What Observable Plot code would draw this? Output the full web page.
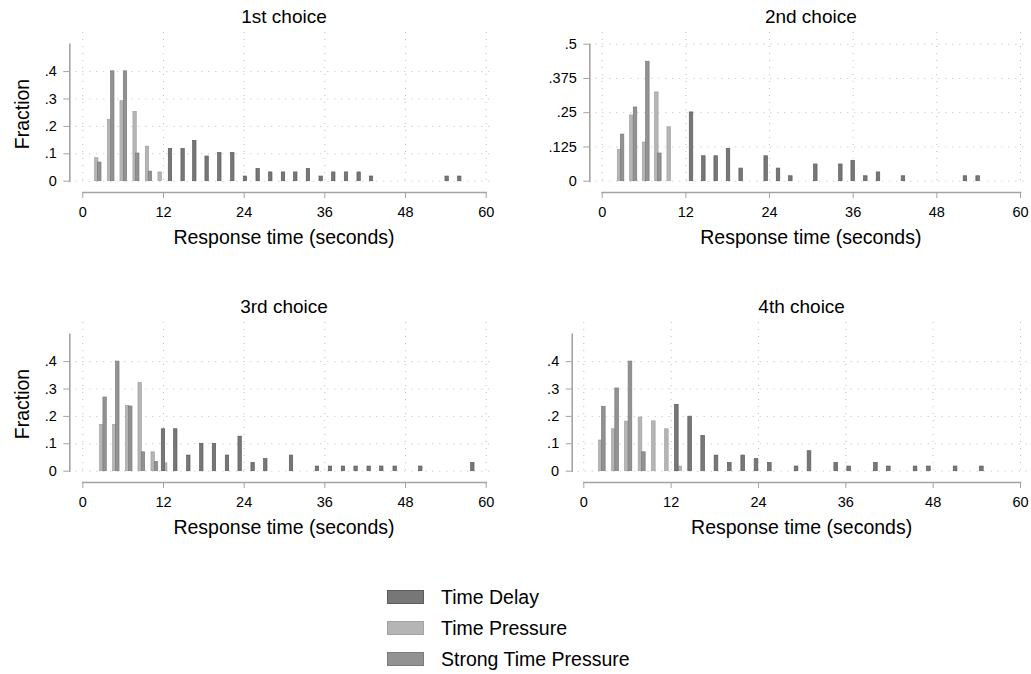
<!DOCTYPE html>
<html>
<head>
<meta charset="utf-8">
<script src="https://cdn.jsdelivr.net/npm/d3@7"></script>
<script src="https://cdn.jsdelivr.net/npm/@observablehq/plot@0.6"></script>
<style>
  body { margin: 0; background: #fff; font-family: "Liberation Sans", Arial, sans-serif; }
  #root { position: relative; width: 1031px; height: 674px; overflow: hidden; background: #fff; }
  .abs { position: absolute; }
  .ctr { transform: translate(-50%, -50%); white-space: nowrap; color: #000; }
  .ptitle { font-size: 19px; }
  .xtitle { font-size: 19.5px; }
  .ytitle { font-size: 19.5px; transform: translate(-50%, -50%) rotate(-90deg); white-space: nowrap; color: #000; }
  .sw { position: absolute; width: 35px; height: 12px; }
  .lt { position: absolute; font-size: 19.5px; color: #000; transform: translateY(-50%); white-space: nowrap; }
</style>
</head>
<body>
<div id="root"></div>
<script>
// ---------- data ----------
const seriesNames = ["Time Delay", "Time Pressure", "Strong Time Pressure"];
const panelTitles = ["1st choice", "2nd choice", "3rd choice", "4th choice"];
const xTicks = [0, 12, 24, 36, 48, 60];
const yTicksA = [0, 0.1, 0.2, 0.3, 0.4];
const yTicksB = [0, 0.125, 0.25, 0.375, 0.5];
const xTitle = "Response time (seconds)";
const yTitle = "Fraction";

// Panel 1: 1st choice (bar centre in seconds, fraction)
const p1TDx = [13.04, 14.92, 16.66, 18.49, 20.38, 22.31, 24.19, 26.08, 27.96, 29.85, 31.68, 33.56, 35.45, 37.33, 39.22, 41.10, 42.94, 54.19, 56.07];
const p1TDy = [0.118, 0.118, 0.147, 0.090, 0.103, 0.103, 0.017, 0.045, 0.032, 0.032, 0.032, 0.045, 0.017, 0.032, 0.032, 0.032, 0.017, 0.017, 0.017];
const p1TPx = [2.08, 3.97, 5.85, 7.78, 9.62, 11.50];
const p1TPy = [0.084, 0.224, 0.292, 0.253, 0.126, 0.032];
const p1STx = [2.53, 4.46, 6.35, 8.18, 10.06];
const p1STy = [0.068, 0.401, 0.401, 0.101, 0.035];

// Panel 2: 2nd choice
const p2TDx = [12.81, 14.58, 16.35, 18.12, 19.93, 23.52, 25.29, 27.06, 30.64, 34.23, 36.00, 37.81, 39.63, 43.21, 52.10, 53.92];
const p2TDy = [0.251, 0.091, 0.091, 0.118, 0.046, 0.091, 0.046, 0.018, 0.061, 0.061, 0.074, 0.018, 0.032, 0.018, 0.018, 0.018];
const p2TPx = [2.49, 4.25, 6.07, 7.84, 9.61];
const p2TPy = [0.114, 0.240, 0.141, 0.324, 0.197];
const p2STx = [2.92, 4.78, 6.55, 8.27];
const p2STy = [0.170, 0.269, 0.436, 0.101];

// Panel 3: 3rd choice
const p3TDx = [12.00, 13.83, 15.77, 17.70, 19.58, 21.52, 23.40, 25.33, 27.22, 31.04, 34.90, 36.84, 38.77, 40.65, 42.59, 44.47, 46.46, 50.27, 58.01];
const p3TDy = [0.153, 0.153, 0.057, 0.100, 0.100, 0.057, 0.126, 0.030, 0.044, 0.057, 0.017, 0.017, 0.017, 0.017, 0.017, 0.017, 0.017, 0.017, 0.030];
const p3TPx = [2.83, 4.76, 6.69, 8.53, 10.46, 12.34];
const p3TPy = [0.169, 0.169, 0.238, 0.322, 0.069, 0.029];
const p3STx = [3.32, 5.21, 7.14, 9.02, 10.96];
const p3STy = [0.269, 0.400, 0.236, 0.069, 0.033];

// Panel 4: 4th choice
const p4TDx = [12.78, 14.61, 16.40, 18.23, 20.06, 21.90, 23.73, 25.56, 29.23, 31.01, 34.68, 36.46, 40.13, 41.91, 45.58, 47.41, 51.08, 54.69];
const p4TDy = [0.242, 0.199, 0.129, 0.057, 0.030, 0.057, 0.044, 0.030, 0.017, 0.073, 0.030, 0.017, 0.030, 0.017, 0.017, 0.017, 0.017, 0.017];
const p4TPx = [2.34, 4.12, 5.91, 7.79, 9.62, 11.41, 13.24];
const p4TPy = [0.112, 0.153, 0.181, 0.196, 0.182, 0.153, 0.017];
const p4STx = [2.75, 4.58, 6.41, 8.25];
const p4STy = [0.235, 0.302, 0.400, 0.069];

// ---------- styles ----------
const fills   = {"Time Delay": "#777777", "Time Pressure": "#b5b5b5", "Strong Time Pressure": "#929292"};
const strokes = {"Time Delay": "#5c5c5c", "Time Pressure": "#a3a3a3", "Strong Time Pressure": "#7b7b7b"};
const axisGray = "#a3a3a3";
const gridGray = "#bdbdbd";
const barW = 0.5;

function rowsOf(td, tp, st) {
  const out = [];
  const add = (xs, ys, s) => xs.forEach((x, i) => out.push({x, y: ys[i], s}));
  add(tp[0], tp[1], "Time Pressure");
  add(st[0], st[1], "Strong Time Pressure");
  add(td[0], td[1], "Time Delay");
  return out;
}

const panels = [
  {rows: rowsOf([p1TDx, p1TDy], [p1TPx, p1TPy], [p1STx, p1STy]), yTicks: yTicksA, L: 0,   T: 0,   W: 515, x0: 82.3,  x60: 485.7, yAx: 69.3,  showY: true},
  {rows: rowsOf([p2TDx, p2TDy], [p2TPx, p2TPy], [p2STx, p2STy]), yTicks: yTicksB, L: 515, T: 0,   W: 516, x0: 601.7, x60: 1020,  yAx: 589.3, showY: false},
  {rows: rowsOf([p3TDx, p3TDy], [p3TPx, p3TPy], [p3STx, p3STy]), yTicks: yTicksA, L: 0,   T: 290, W: 515, x0: 82.3,  x60: 485.7, yAx: 69.3,  showY: true},
  {rows: rowsOf([p4TDx, p4TDy], [p4TPx, p4TPy], [p4STx, p4STy]), yTicks: yTicksA, L: 515, T: 290, W: 516, x0: 583.3, x60: 1020,  yAx: 571.7, showY: false}
];

const fmt = d => d === 0 ? "0" : String(d).replace(/^0\./, ".");
const root = document.getElementById("root");

panels.forEach((p, i) => {
  const H = 260;
  const plotTop = 32, axisLine = 192, y0 = 180.7, yTop = 43.7; // relative to panel top
  const chart = Plot.plot({
    width: p.W, height: H,
    marginLeft: p.yAx - p.L,
    marginRight: p.L + p.W - p.x60,
    marginTop: plotTop,
    marginBottom: H - axisLine,
    style: {fontFamily: '"Liberation Sans", Arial, sans-serif', background: "transparent", overflow: "visible"},
    x: {domain: [0, 60], range: [p.x0 - p.L, p.x60 - p.L], label: null},
    y: {domain: [0, 0.5], range: [y0, yTop], label: null},
    color: {type: "identity"},
    marks: [
      Plot.gridX(xTicks, {stroke: gridGray, strokeOpacity: 1, strokeDasharray: "1,6", insetBottom: 9}),
      Plot.gridY(p.yTicks, {stroke: gridGray, strokeOpacity: 1, strokeDasharray: "1,6", insetLeft: 6, insetRight: -9}),
      Plot.rect(p.rows, {
        x1: d => d.x - barW / 2, x2: d => d.x + barW / 2,
        y1: () => 0, y2: "y",
        fill: d => fills[d.s], stroke: d => strokes[d.s], strokeWidth: 0.7
      }),
      Plot.frame({anchor: "left", stroke: axisGray, strokeWidth: 1.6, insetTop: yTop - plotTop, insetBottom: axisLine - y0}),
      Plot.frame({anchor: "bottom", stroke: axisGray, strokeWidth: 1.6, insetLeft: p.x0 - p.yAx}),
      Plot.axisY(p.yTicks, {anchor: "left", tickSize: 6, tickPadding: 7, tickFormat: fmt, stroke: axisGray, fill: "#000", fontSize: 14.5, label: null}),
      Plot.axisX(xTicks, {anchor: "bottom", tickSize: 6, tickPadding: 8, tickFormat: d => String(d), stroke: axisGray, fill: "#000", fontSize: 14.5, label: null})
    ]
  });
  chart.style.position = "absolute";
  chart.style.left = p.L + "px";
  chart.style.top = p.T + "px";
  root.appendChild(chart);

  const cx = (p.x0 + p.x60) / 2;
  const t = document.createElement("div");
  t.className = "abs ctr ptitle";
  t.style.left = cx + "px"; t.style.top = (p.T + 17) + "px";
  t.textContent = panelTitles[i];
  root.appendChild(t);

  const xt = document.createElement("div");
  xt.className = "abs ctr xtitle";
  xt.style.left = cx + "px"; xt.style.top = (p.T + 236.7) + "px";
  xt.textContent = xTitle;
  root.appendChild(xt);

  if (p.showY) {
    const yt = document.createElement("div");
    yt.className = "abs ytitle";
    yt.style.left = "21.7px"; yt.style.top = (p.T + 113.5) + "px";
    yt.textContent = yTitle;
    root.appendChild(yt);
  }
});

// legend
seriesNames.forEach((s, i) => {
  const cy = 597 + i * 31;
  const sw = document.createElement("div");
  sw.className = "sw";
  sw.style.left = "387px"; sw.style.top = (cy - 7) + "px";
  sw.style.background = fills[s];
  sw.style.border = "1px solid " + strokes[s];
  root.appendChild(sw);
  const lt = document.createElement("div");
  lt.className = "lt";
  lt.style.left = "441px"; lt.style.top = cy + "px";
  lt.textContent = s;
  root.appendChild(lt);
});
</script>
</body>
</html>
